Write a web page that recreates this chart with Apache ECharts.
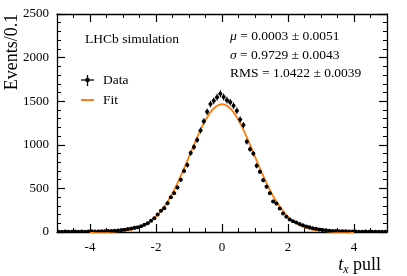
<!DOCTYPE html>
<html><head><meta charset="utf-8">
<script src="https://cdn.jsdelivr.net/npm/echarts@6/dist/echarts.min.js"></script>
<style>html,body{margin:0;padding:0;background:#fff}#c{width:407px;height:276px}</style>
</head><body><div id="c"></div>
<script>
// Histogram: 100 bins of width 0.1 from -5 to 5
const binLow = -5;
const binWidth = 0.1;
const counts = [
  4, 3, 5, 3, 4, 6, 3, 5, 4, 6,
  8, 5, 7, 9, 8, 11, 12, 15, 16, 22,
  27, 33, 40, 48, 55, 66, 82, 100, 128, 158,
  200, 245, 272, 330, 398, 445, 510, 600, 700, 768,
  905, 975, 1055, 1165, 1270, 1380, 1468, 1505, 1545, 1585,
  1548, 1512, 1488, 1448, 1390, 1290, 1226, 1035, 950, 900,
  760, 690, 594, 520, 445, 350, 326, 270, 212, 174,
  144, 124, 108, 92, 77, 64, 54, 44, 36, 30,
  24, 19, 15, 12, 11, 9, 8, 9, 6, 5,
  6, 4, 3, 5, 4, 3, 2, 4, 3, 2
];
// Fit curve, sampled every 0.1 from -4.0 to 4.0
const fitStart = -4.0;
const fitStep = 0.1;
const fitY = [
  0, 0, 1, 1, 2, 2, 3, 5, 7, 9,
  13, 17, 23, 31, 41, 54, 70, 90, 114, 143,
  177, 218, 265, 318, 379, 446, 520, 600, 685, 773,
  864, 955, 1045, 1131, 1211, 1284, 1346, 1397, 1434, 1457,
  1465,
  1457, 1434, 1397, 1346, 1284, 1211, 1131, 1045, 955, 864,
  773, 685, 600, 520, 446, 379, 318, 265, 218, 177,
  143, 114, 90, 70, 54, 41, 31, 23, 17, 13,
  9, 7, 5, 3, 2, 2, 1, 1, 0, 0
];
const xMajorTicks = [-4, -2, 0, 2, 4];
const yTickLabels = [0, 500, 1000, 1500, 2000, 2500];
const statLines = ['μ = 0.0003 ± 0.0051', 'σ = 0.9729 ± 0.0043', 'RMS = 1.0422 ± 0.0039'];
const experimentLabel = 'LHCb simulation';
const legendNames = ['Data', 'Fit'];
const xTitle = ['t', 'x', ' pull'];
const yTitle = 'Events/0.1';

const FONT = '"Liberation Serif", "DejaVu Serif", serif';
const FIT_COLOR = '#ff7f0e';

const dataPoints = counts.map((n, i) => [binLow + binWidth * (i + 0.5), n, Math.sqrt(n)]);
const fitPoints = fitY.map((v, i) => [+(fitStart + fitStep * i).toFixed(2), v]);

const lineSt = {color: '#000', width: 1.3};
const plainNum = v => String(v);
function xAxisPair(pos, labels) {
  return [
    {type: 'value', min: -5, max: 5, interval: 0.5, position: pos, gridIndex: 0,
     axisLine: {show: true, onZero: false, lineStyle: lineSt},
     axisTick: {show: true, inside: true, length: 4, lineStyle: {color: '#000', width: 1}},
     axisLabel: labels ? {show: true, customValues: xMajorTicks, formatter: plainNum, margin: 9, color: '#000', fontFamily: FONT, fontSize: 13} : {show: false},
     splitLine: {show: false}},
    {type: 'value', min: -5, max: 5, position: pos, gridIndex: 0,
     axisLine: {show: false, onZero: false},
     axisTick: {show: true, inside: true, length: 8, customValues: xMajorTicks, lineStyle: {color: '#000', width: 1.2}},
     axisLabel: {show: false},
     splitLine: {show: false}}
  ];
}
function yAxis(pos, labels) {
  return {type: 'value', min: 0, max: 2500, interval: 500, position: pos,
    axisLine: {show: true, onZero: false, lineStyle: lineSt},
    axisTick: {show: true, inside: true, length: 8, lineStyle: {color: '#000', width: 1.2}},
    minorTick: {show: true, splitNumber: 5, length: 4, lineStyle: {color: '#000', width: 1}},
    axisLabel: labels ? {show: true, customValues: yTickLabels, formatter: plainNum, margin: 8, color: '#000', fontFamily: FONT, fontSize: 13} : {show: false},
    splitLine: {show: false}, minorSplitLine: {show: false}};
}

const chart = echarts.init(document.getElementById('c'), null, {renderer: 'canvas'});
const txt = (x, y, text, size, extra) => ({type: 'text', x: x, y: y, z: 10,
  style: Object.assign({text: text, fontFamily: FONT, fontSize: size, fill: '#000', align: 'left', verticalAlign: 'middle'}, extra || {})});
const richMath = {i: {fontStyle: 'italic', fontFamily: FONT, fontSize: 13.5}};
function statText(s) {
  return s.replace(/^([μσ])/, '{i|$1}');
}

chart.setOption({
  animation: false,
  backgroundColor: '#fff',
  grid: {left: 57, right: 20, top: 14, bottom: 44, containLabel: false},
  xAxis: [].concat(xAxisPair('bottom', true), xAxisPair('top', false)),
  yAxis: [yAxis('left', true), yAxis('right', false)],
  series: [
    {type: 'line', name: legendNames[1], xAxisIndex: 0, yAxisIndex: 0, data: fitPoints,
     showSymbol: false, smooth: 0.2, lineStyle: {color: FIT_COLOR, width: 1.8}, z: 2, silent: true},
    {type: 'custom', name: legendNames[0], xAxisIndex: 0, yAxisIndex: 0, data: dataPoints, z: 3, clip: true,
     renderItem: function (params, api) {
       const x = api.value(0), y = api.value(1), e = api.value(2);
       const c = api.coord([x, y]);
       const t = api.coord([x, y + e]);
       const b = api.coord([x, Math.max(0, y - e)]);
       const l = api.coord([x - binWidth / 2, y]);
       const r = api.coord([x + binWidth / 2, y]);
       return {type: 'group', children: [
         {type: 'line', shape: {x1: c[0], y1: t[1], x2: c[0], y2: b[1]}, style: {stroke: '#000', lineWidth: 1.1}},
         {type: 'line', shape: {x1: l[0], y1: c[1], x2: r[0], y2: c[1]}, style: {stroke: '#000', lineWidth: 1.1}},
         {type: 'circle', shape: {cx: c[0], cy: c[1], r: 2}, style: {fill: '#000'}}
       ]};
     }}
  ],
  graphic: [
    {type: 'text', x: 12, y: 52, rotation: Math.PI / 2, z: 10,
     style: {text: yTitle, fontFamily: FONT, fontSize: 18, fill: '#000', align: 'center', verticalAlign: 'middle'}},
    {type: 'text', x: 381, y: 265, z: 10,
     style: {text: '{i|' + xTitle[0] + '}{s|' + xTitle[1] + '}{n|' + xTitle[2] + '}', align: 'right', verticalAlign: 'middle', fill: '#000',
       rich: {i: {fontStyle: 'italic', fontFamily: FONT, fontSize: 18, lineHeight: 22, verticalAlign: 'middle'},
              s: {fontStyle: 'italic', fontFamily: FONT, fontSize: 12, lineHeight: 22, verticalAlign: 'bottom'},
              n: {fontFamily: FONT, fontSize: 18, lineHeight: 22, verticalAlign: 'middle'}}}},
    txt(85, 39, experimentLabel, 13.5),
    {type: 'text', x: 230, y: 36, z: 10, style: {text: statText(statLines[0]), fontFamily: FONT, fontSize: 13.5, fill: '#000', verticalAlign: 'middle', rich: richMath}},
    {type: 'text', x: 230, y: 55, z: 10, style: {text: statText(statLines[1]), fontFamily: FONT, fontSize: 13.5, fill: '#000', verticalAlign: 'middle', rich: richMath}},
    {type: 'text', x: 230, y: 73, z: 10, style: {text: statText(statLines[2]), fontFamily: FONT, fontSize: 13.5, fill: '#000', verticalAlign: 'middle', rich: richMath}},
    // legend: Data
    {type: 'line', z: 10, shape: {x1: 81, y1: 80, x2: 94, y2: 80}, style: {stroke: '#000', lineWidth: 1.3}},
    {type: 'line', z: 10, shape: {x1: 87.5, y1: 75, x2: 87.5, y2: 86}, style: {stroke: '#000', lineWidth: 1.3}},
    {type: 'circle', z: 10, shape: {cx: 87.5, cy: 80, r: 2.3}, style: {fill: '#000'}},
    txt(103, 80, legendNames[0], 13.5),
    // legend: Fit
    {type: 'line', z: 10, shape: {x1: 81, y1: 100, x2: 94, y2: 100}, style: {stroke: FIT_COLOR, lineWidth: 2}},
    txt(103, 100, legendNames[1], 13.5)
  ]
});
</script>
</body></html>
